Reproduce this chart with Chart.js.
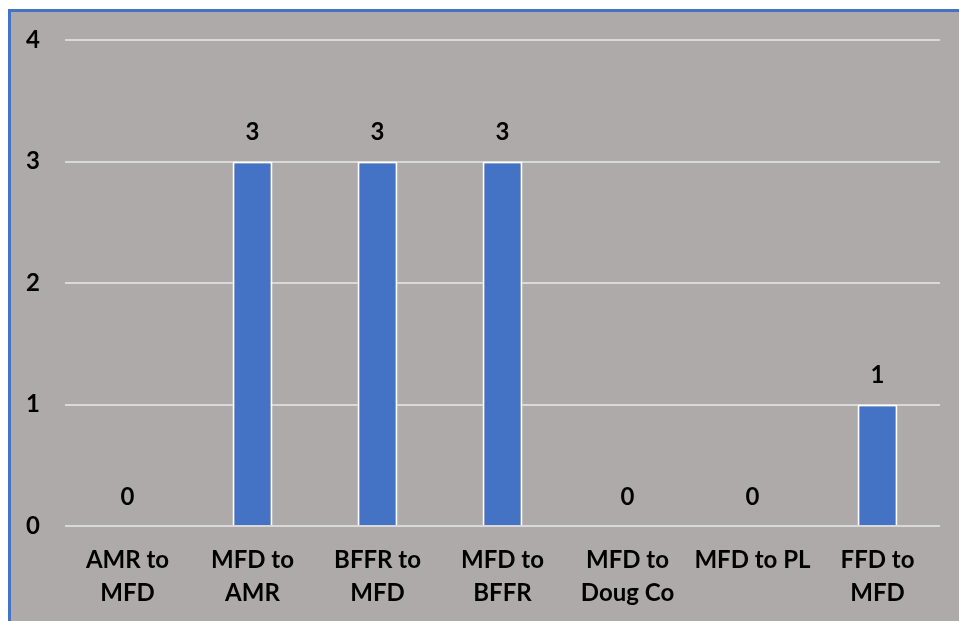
<!DOCTYPE html>
<html>
<head>
<meta charset="utf-8">
<script src="https://cdn.jsdelivr.net/npm/chart.js@4"></script>
<style>
    html, body { margin: 0; padding: 0; background: #ffffff; overflow: hidden; }
    #frame {
        position: absolute;
        left: 8px;
        top: 9px;
        width: 960px;
        height: 620px;
        background: #AEAAAA;
        border-top: 3px solid #4472C4;
        border-left: 3px solid #4472C4;
    }
    #wrap { position: absolute; left: 0; top: 0; width: 948px; height: 609px; }
</style>
</head>
<body>
<div id="frame"><div id="wrap"><canvas id="transferChart"></canvas></div></div>
<script>
// Chart data
const categories = [
    ['AMR to', 'MFD'],
    ['MFD to', 'AMR'],
    ['BFFR to', 'MFD'],
    ['MFD to', 'BFFR'],
    ['MFD to', 'Doug Co'],
    'MFD to PL',
    ['FFD to', 'MFD']
];
const transferCounts = [0, 3, 3, 3, 0, 0, 1];
const yTicks = [0, 1, 2, 3, 4];

const labelFont = { family: 'Lato, "Open Sans", sans-serif', size: 24, weight: 'bold', lineHeight: 1.38 };

// Draw the value above each bar
const valueLabels = {
    id: 'valueLabels',
    afterDatasetsDraw(chart) {
        const ctx = chart.ctx;
        const meta = chart.getDatasetMeta(0);
        ctx.save();
        ctx.font = 'bold 24px Lato, "Open Sans", sans-serif';
        ctx.fillStyle = '#000000';
        ctx.textAlign = 'center';
        ctx.textBaseline = 'middle';
        meta.data.forEach(function(bar, i) {
            ctx.fillText(String(transferCounts[i]), bar.x, bar.y - 29);
        });
        ctx.restore();
    }
};

const ctx = document.getElementById('transferChart').getContext('2d');
new Chart(ctx, {
    type: 'bar',
    data: {
        labels: categories,
        datasets: [{
            data: transferCounts,
            backgroundColor: '#4472C4',
            borderColor: '#ffffff',
            borderWidth: 2,
            barPercentage: 0.64,
            categoryPercentage: 0.5
        }]
    },
    options: {
        responsive: true,
        maintainAspectRatio: false,
        animation: false,
        layout: {
            padding: { top: 28, right: 19, bottom: 0, left: 0 }
        },
        scales: {
            y: {
                min: 0,
                max: 4,
                afterBuildTicks: function(scale) {
                    scale.ticks = yTicks.map(v => ({ value: v }));
                },
                afterFit: function(scale) {
                    scale.width = 54;
                    scale.paddingTop = 0;
                    scale.paddingBottom = 0;
                },
                grid: { color: '#D9D9D9', lineWidth: 2, drawTicks: false },
                border: { display: false },
                ticks: { color: '#000000', font: labelFont, padding: 25 }
            },
            x: {
                afterFit: function(scale) {
                    scale.height = 95;
                    scale.paddingLeft = 0;
                    scale.paddingRight = 0;
                },
                grid: { display: false },
                border: { display: false },
                ticks: { color: '#000000', font: labelFont, padding: 10, maxRotation: 0, autoSkip: false }
            }
        },
        plugins: {
            legend: { display: false },
            tooltip: { enabled: false }
        }
    },
    plugins: [valueLabels]
});
</script>
</body>
</html>
